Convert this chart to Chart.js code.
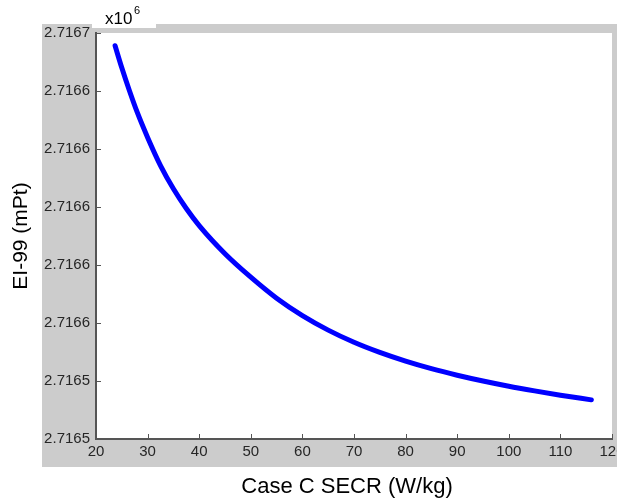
<!DOCTYPE html>
<html>
<head>
<meta charset="utf-8">
<title>EI-99 vs Case C SECR</title>
<script src="https://cdn.jsdelivr.net/npm/chart.js@4/dist/chart.umd.min.js"></script>
<style>
  html, body { margin: 0; padding: 0; background: #fff; }
  #wrap { width: 617px; height: 500px; }
</style>
</head>
<body>
<div id="wrap"><canvas id="eiChart" width="617" height="500"></canvas></div>
<script>
// specific energy consumption rate (W/kg) along the curve
const secr = [23.7, 25, 26.5, 28, 30, 32.5, 35, 37.5, 40, 45, 50, 55, 60, 65,
              70, 75, 80, 85, 90, 95, 100, 105, 110, 116];
// matching Eco-indicator 99 score (mPt)
const ei99 = [2716655.6, 2716648, 2716640, 2716632.6, 2716624, 2716614.3, 2716606.3,
              2716599.5, 2716593.6, 2716583.9, 2716575.8, 2716568.55, 2716562.55, 2716557.55,
              2716553.35, 2716549.85, 2716546.85, 2716544.25, 2716542, 2716540,
              2716538.2, 2716536.6, 2716535.1, 2716533.5];

const xTicks = [20, 30, 40, 50, 60, 70, 80, 90, 100, 110, 120];
const yTicks = [2716520, 2716540, 2716560, 2716580, 2716600, 2716620, 2716640, 2716660];
const yExponent = 6;
const xLabel = 'Case C SECR (W/kg)';
const yLabel = 'EI-99 (mPt)';

const FONT = "'Liberation Sans', Arial, Helvetica, sans-serif";
const GRAY = '#cccccc';
const AXIS = '#555555';

// figure background, white axes box, inward ticks, x label and the x10^6 label
const matlabFrame = {
  id: 'matlabFrame',
  beforeDraw(chart) {
    const { ctx, chartArea: a } = chart;
    ctx.save();
    ctx.fillStyle = '#ffffff';
    ctx.fillRect(0, 0, chart.width, chart.height);
    ctx.fillStyle = GRAY;
    ctx.fillRect(42, 24, chart.width - 42, 443);
    ctx.fillStyle = '#ffffff';
    ctx.fillRect(a.left, a.top, a.right - a.left, a.bottom - a.top);
    ctx.fillRect(92, 0, 64, 28);
    ctx.restore();
  },
  afterDraw(chart) {
    const { ctx, chartArea: a, scales } = chart;
    ctx.save();
    ctx.strokeStyle = AXIS;
    ctx.lineWidth = 1;
    ctx.beginPath();
    scales.x.ticks.forEach(t => {
      const px = Math.round(scales.x.getPixelForValue(t.value)) + 0.5;
      ctx.moveTo(px, a.bottom);
      ctx.lineTo(px, a.bottom - 5);
    });
    scales.y.ticks.forEach(t => {
      const py = Math.round(scales.y.getPixelForValue(t.value)) + 0.5;
      ctx.moveTo(a.left, py);
      ctx.lineTo(a.left + 5, py);
    });
    ctx.stroke();

    ctx.fillStyle = '#000000';
    ctx.textBaseline = 'middle';
    ctx.textAlign = 'center';
    ctx.font = '22px ' + FONT;
    ctx.fillText(xLabel, 347, 487);

    ctx.textAlign = 'left';
    ctx.textBaseline = 'alphabetic';
    ctx.font = '17px ' + FONT;
    ctx.fillText('x10', 105, 24);
    ctx.font = '11px ' + FONT;
    ctx.fillText(String(yExponent), 134, 14);
    ctx.restore();
  }
};

function fixedBox(size, horizontal) {
  return function (scale) {
    if (horizontal) scale.height = size; else scale.width = size;
    scale.paddingLeft = 0;
    scale.paddingRight = 0;
    scale.paddingTop = 0;
    scale.paddingBottom = 0;
  };
}

const ctx = document.getElementById('eiChart').getContext('2d');

new Chart(ctx, {
  type: 'line',
  data: {
    datasets: [{
      data: secr.map((x, i) => ({ x, y: ei99[i] })),
      borderColor: '#0000ff',
      borderWidth: 5,
      borderCapStyle: 'round',
      borderJoinStyle: 'round',
      cubicInterpolationMode: 'monotone',
      pointRadius: 0,
      fill: false
    }]
  },
  options: {
    responsive: false,
    devicePixelRatio: 1,
    animation: false,
    layout: { padding: { left: 0, top: 33, right: 5, bottom: 0 } },
    plugins: {
      legend: { display: false },
      tooltip: { enabled: false }
    },
    scales: {
      x: {
        type: 'linear',
        position: 'bottom',
        min: 20,
        max: 120,
        afterBuildTicks: scale => { scale.ticks = xTicks.map(v => ({ value: v })); },
        afterFit: fixedBox(61, true),
        grid: { display: false, drawTicks: false },
        border: { display: true, color: AXIS, width: 2 },
        ticks: {
          autoSkip: false,
          maxRotation: 0,
          padding: 4,
          color: '#262626',
          font: { family: FONT, size: 15 }
        }
      },
      y: {
        type: 'linear',
        position: 'left',
        min: 2716520,
        max: 2716660,
        afterBuildTicks: scale => { scale.ticks = yTicks.map(v => ({ value: v })); },
        afterFit: fixedBox(96, false),
        grid: { display: false, drawTicks: false },
        border: { display: true, color: AXIS, width: 2 },
        ticks: {
          autoSkip: false,
          padding: 6,
          color: '#262626',
          font: { family: FONT, size: 15 },
          callback: v => (v / Math.pow(10, yExponent)).toFixed(4)
        },
        title: {
          display: true,
          text: yLabel,
          color: '#000000',
          padding: { top: 9, bottom: 0 },
          font: { family: FONT, size: 21 }
        }
      }
    }
  },
  plugins: [matlabFrame]
});
</script>
</body>
</html>
